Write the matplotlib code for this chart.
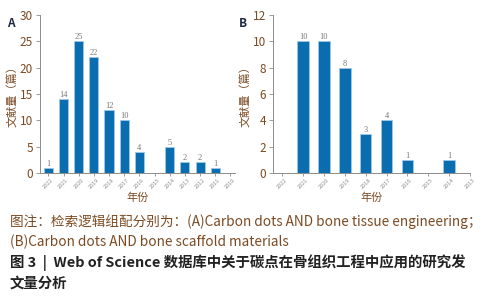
import matplotlib
matplotlib.use("Agg")
import matplotlib.pyplot as plt
import numpy as np

plt.rcParams['font.family'] = ['Noto Sans CJK SC', 'DejaVu Sans']

# --- datos ---
anios_a = ["2022", "2021", "2020", "2019", "2018", "2017", "2016",
           "2015", "2014", "2013", "2012", "2011", "2010"]
valores_a = [1, 14, 25, 22, 12, 10, 4, 0, 5, 2, 2, 1]

anios_b = ["2022", "2021", "2020", "2019", "2018", "2017", "2016",
           "2015", "2014", "2013"]
valores_b = [0, 10, 10, 8, 3, 4, 1, 0, 1]

color_barra = '#0a6db0'
color_marron = '#7b4a22'
color_gris = '#8c8c8c'


def dibujar_panel(ax, anios, valores, ymax, paso, letra, ancho, xlim):
    x = np.arange(len(valores))
    ax.bar(x, valores, width=ancho, color=color_barra, edgecolor='#9cc8e8', linewidth=0.6)
    for i, v in enumerate(valores):
        if v > 0:
            ax.text(i, v, str(v), ha='center', va='bottom', fontsize=6,
                    color='#777777', family='Liberation Serif')
    ax.set_xticks(np.arange(len(anios)))
    ax.set_xticklabels(anios, rotation=45, fontsize=4, color=color_gris)
    ax.set_xlim(*xlim)
    ax.set_ylim(0, ymax)
    ax.set_yticks(np.arange(0, ymax + 1, paso))
    ax.tick_params(axis='y', labelsize=8.5, colors=color_gris, length=3, width=0.6, pad=2)
    for t in ax.get_yticklabels():
        t.set_color(color_marron)
    ax.tick_params(axis='x', length=2.5, width=0.6, colors=color_gris, pad=1)
    ax.spines['top'].set_visible(False)
    ax.spines['right'].set_visible(False)
    ax.spines['left'].set_color(color_gris)
    ax.spines['bottom'].set_color(color_gris)
    ax.spines['left'].set_linewidth(0.7)
    ax.spines['bottom'].set_linewidth(0.7)
    ax.set_ylabel("文献量（篇）", fontsize=8, color=color_marron, labelpad=2)
    ax.set_xlabel("年份", fontsize=8, color=color_marron, labelpad=2)
    ax.text(-0.17, 0.99, letra, transform=ax.transAxes, fontsize=8.5,
            fontweight='bold', color='#1f2a44', ha='left', va='top')


fig = plt.figure(figsize=(4.89, 3.0), dpi=100)
ax_a = fig.add_axes([0.0818, 0.4233, 0.3988, 0.5267])
ax_b = fig.add_axes([0.558, 0.4233, 0.403, 0.5267])

dibujar_panel(ax_a, anios_a, valores_a, 30, 5, "A", 0.6, (-0.55, 12.3))
dibujar_panel(ax_b, anios_b, valores_b, 12, 2, "B", 0.55, (-0.45, 9.0))

# --- pie de figura ---
fig.text(0.02, 0.262, "图注：检索逻辑组配分别为：(A)Carbon dots AND bone tissue engineering；",
         fontsize=9.8, color=color_marron, va='center')
fig.text(0.02, 0.195, "(B)Carbon dots AND bone scaffold materials",
         fontsize=9.8, color=color_marron, va='center')
fig.text(0.02, 0.125, "图 3  |  Web of Science 数据库中关于碳点在骨组织工程中应用的研究发",
         fontsize=10.4, color='#222222', va='center', fontweight='bold')
fig.text(0.02, 0.055, "文量分析",
         fontsize=10.4, color='#222222', va='center', fontweight='bold')

fig.savefig("out.png", dpi=100)
